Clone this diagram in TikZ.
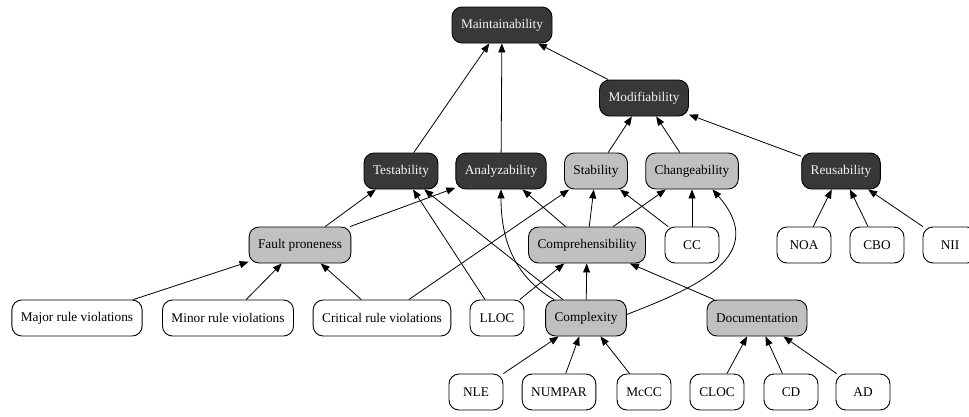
\documentclass[tikz,border=0pt]{standalone}
\usepackage{fontspec}
\setmainfont{Liberation Serif}
\usetikzlibrary{arrows.meta}
\definecolor{darkbox}{HTML}{383838}
\definecolor{midbox}{HTML}{C0C0C0}
\definecolor{lighttext}{HTML}{F4F4F4}

\begin{document}
\begin{tikzpicture}[x=1pt,y=-1pt,
  box/.style={draw,line width=.9pt,rounded corners=10pt,minimum width=54pt,minimum height=36pt,inner xsep=9pt,font=\fontsize{13.3}{15}\selectfont},
  top/.style={box,fill=darkbox,text=lighttext},
  mid/.style={box,fill=midbox},
  leaf/.style={box,fill=white},
  edge/.style={line width=.8pt,-{Triangle[length=9pt,width=7pt]}}]
\useasboundingbox (0,0) rectangle (969,416);
\clip (0,0) rectangle (969,416);
% quality tree
\foreach \n/\x/\y/\t in {maint/502/25/Maintainability,modif/644/98/Modifiability,test/401/171/Testability,analyz/501/171/Analyzability,reuse/841/171/Reusability}{\node[top] (\n) at (\x,\y) {\t};}
\foreach \n/\x/\y/\t in {stab/596/171/Stability,change/692/171/Changeability,fault/300/245/Fault proneness,compr/587/245/Comprehensibility,cplx/586/318/Complexity,doc/757/318/Documentation}{\node[mid] (\n) at (\x,\y) {\t};}
% metrics
\foreach \n/\x/\y/\t in {cc/692/245/CC,noa/804/245/NOA,cbo/877/245/CBO,nii/950/245/NII,major/77/318/Major rule violations,minor/228/318/Minor rule violations,crit/382/318/Critical rule violations,lloc/497/318/LLOC,nle/476/392/NLE,numpar/559/392/NUMPAR,mccc/644/392/McCC,cloc/717/392/CLOC,cd/791/392/CD,ad/863/392/AD}{\node[leaf] (\n) at (\x,\y) {\t};}
\foreach \a/\b in {test/maint,analyz/maint,modif/maint,stab/modif,change/modif,reuse/modif,fault/test,fault/analyz,lloc/test,cplx/test,compr/analyz,compr/stab,compr/change,crit/stab,cc/stab,cc/change,major/fault,minor/fault,crit/fault,lloc/compr,cplx/compr,doc/compr,nle/cplx,numpar/cplx,mccc/cplx,cloc/doc,cd/doc,ad/doc,noa/reuse,cbo/reuse,nii/reuse}{\draw[edge] (\a) -- (\b);}
\draw[edge] (cplx.150) to[out=150,in=-90] (analyz.south);
\draw[edge] (cplx.5) .. controls (698,287) and (770,255) .. (change.-42);
\end{tikzpicture}
\end{document}
